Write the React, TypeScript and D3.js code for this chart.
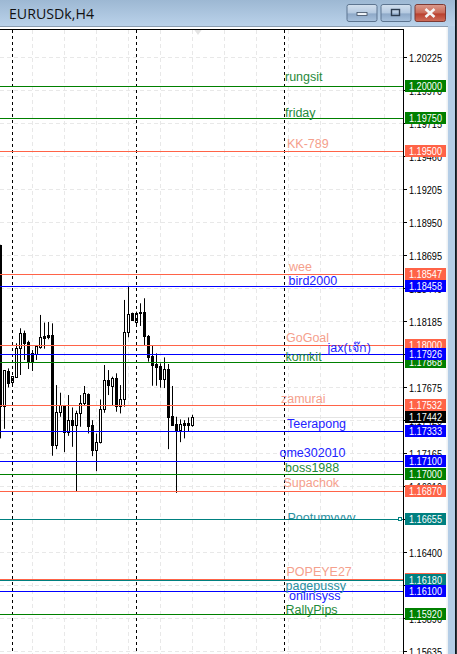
import React from "react";
import * as d3 from "d3";

const W = 457, H = 654;
const title = "EURUSDk,H4";

const tickPrices = [1.20225,1.1997,1.19715,1.1946,1.19205,1.1895,1.18695,1.1844,1.18185,1.1793,1.17675,1.1742,1.17165,1.1691,1.16655,1.164,1.16145,1.1589,1.15635];

const opens = [1.18773,1.17527,1.17795,1.17715,1.17754,1.17973,1.18089,1.18019,1.17934,1.17929,1.17986,1.18068,1.18074,1.18074,1.17228,1.17478,1.17532,1.17323,1.17416,1.17382,1.1747,1.17547,1.1762,1.1738,1.17186,1.17246,1.17501,1.17725,1.17684,1.17741,1.17527,1.17578,1.18097,1.18244,1.18179,1.18254,1.18254,1.18068,1.17914,1.17852,1.17836,1.17733,1.1781,1.17449,1.17385,1.17341,1.17393,1.17393,1.17382];
const highs = [1.18773,1.17805,1.17818,1.17759,1.18012,1.18128,1.1811,1.18032,1.1796,1.17999,1.18231,1.18172,1.18177,1.18166,1.17689,1.1763,1.17532,1.17612,1.17516,1.17491,1.17612,1.17682,1.17625,1.17418,1.17315,1.17578,1.17844,1.17805,1.17754,1.1778,1.17689,1.18347,1.1845,1.18249,1.18257,1.18321,1.1836,1.18076,1.17991,1.17934,1.17857,1.17903,1.17852,1.17682,1.17444,1.17424,1.17418,1.17439,1.1746];
const lows = [1.17277,1.17351,1.17671,1.17684,1.17754,1.17767,1.17883,1.17813,1.17798,1.17883,1.1797,1.1797,1.18043,1.17143,1.17194,1.17444,1.17171,1.17297,1.17212,1.16869,1.17367,1.17527,1.17315,1.1714,1.17024,1.17238,1.17475,1.17612,1.17535,1.17483,1.1747,1.17522,1.18058,1.18187,1.18153,1.18146,1.17999,1.1787,1.17684,1.17684,1.17669,1.17666,1.17194,1.1738,1.16856,1.17248,1.17277,1.17331,1.17367];
const closes = [1.17527,1.17805,1.17707,1.17759,1.17973,1.18089,1.18012,1.17867,1.17867,1.17991,1.18058,1.18055,1.18061,1.17228,1.17478,1.17532,1.17323,1.17416,1.17382,1.1747,1.17547,1.17625,1.17375,1.17186,1.17246,1.17501,1.17725,1.17692,1.17743,1.17527,1.17578,1.18097,1.18236,1.18192,1.18244,1.18244,1.18068,1.17908,1.17847,1.17831,1.17733,1.1781,1.17444,1.17382,1.17341,1.17385,1.17382,1.17382,1.17439];

const levelNames = ["rungsit","friday","KK-789","wee","bird2000","GoGoal","jax(เจ๊ก)","komkit","zamurai","Teerapong","ome302010","boss1988","Supachok","Pootumyvyy","POPEYE27","pagepussy","onlinsyss","RallyPips"];
const levelPrices = [1.2,1.1975,1.195,1.18547,1.18458,1.18,1.17926,1.17868,1.17532,1.17333,1.171,1.17,1.1687,1.16655,1.1619,1.1618,1.161,1.1592];
const levelKinds = ["g","g","s","s","b","s","b","g","s","b","b","g","s","t","s","t","b","g"];
const labelX = [285,285,287,289,288.5,286,327.5,285.5,281,287,279.5,285,283.5,287.5,286.5,285.5,289,285.5];
const labelBase = [81,116.7,147.7,270.7,284.7,342,351.7,360.7,402.7,427.7,457,471.7,486.7,522,575.7,590,600,614];
const currentPrice = 1.17442;

const lineColor: Record<string,string> = { g:"#008000", s:"#ff6347", b:"#0000ff", t:"#008080" };
const textColor: Record<string,string> = { g:"#1f8a3a", s:"#f5a08c", b:"#2222ff", t:"#2a8f9f" };

const plotRight = 403.5;
const y = d3.scaleLinear().domain([1.20225, 1.15635]).range([56.9, 650.9]);
const x = d3.scaleLinear().domain([0, 48]).range([0.5, 192.5]);
const gridX = d3.range(32.5, 400, 32);
const sepX = [12.5, 136.5, 284.5];
const font = "'Liberation Sans', Arial, sans-serif";
const fmt = d3.format(".5f");
const tagOrder = d3.range(levelPrices.length).sort((a, b) => (levelKinds[a] === "b" ? 1 : 0) - (levelKinds[b] === "b" ? 1 : 0) || a - b);

function Btn({ x0, w, a, b, children }: any) {
  return (
    <g>
      <rect x={x0 + 0.5} y={4.5} width={w} height={17} rx={2} fill={`url(#${a})`} stroke={b} />
      {children}
    </g>
  );
}

export default function App() {
  return (
    <svg width={W} height={H} viewBox={`0 0 ${W} ${H}`} style={{ position: "fixed", left: 0, top: 0, display: "block" }}>
      <defs>
        <linearGradient id="tb" x1="0" x2="0" y1="0" y2="1">
          <stop offset="0" stopColor="#9db8d3" />
          <stop offset="1" stopColor="#bad2ea" />
        </linearGradient>
        <linearGradient id="bt" x1="0" x2="0" y1="0" y2="1">
          <stop offset="0" stopColor="#d3e0ee" />
          <stop offset="0.5" stopColor="#b4c9e0" />
          <stop offset="0.55" stopColor="#8ea9c8" />
          <stop offset="1" stopColor="#a9c2dd" />
        </linearGradient>
        <linearGradient id="cl" x1="0" x2="0" y1="0" y2="1">
          <stop offset="0" stopColor="#dc9c8e" />
          <stop offset="0.5" stopColor="#c96a58" />
          <stop offset="0.55" stopColor="#b9402e" />
          <stop offset="1" stopColor="#cf6f5c" />
        </linearGradient>
        <clipPath id="plot"><rect x={0} y={30} width={403} height={H - 30} /></clipPath>
        <clipPath id="pootum"><rect x={280} y={500} width={100} height={19} /></clipPath>
      </defs>
      <rect width={W} height={H} fill="#fff" />
      <rect width={W} height={26} fill="url(#tb)" />
      <rect x={448} y={26} width={7} height={H - 26} fill="#b4cde6" />
      <rect x={446.5} y={26} width={1.5} height={H - 26} fill="#eef1f4" />
      <rect x={455} y={0} width={1} height={H} fill="#0e1a22" />
      <rect x={456} y={0} width={1} height={H} fill="#30343a" />
      <line x1={0} x2={448} y1={26.5} y2={26.5} stroke="#8a9cb0" />
      <text x={9} y={19} fontFamily="'Open Sans', sans-serif" fontSize={14} fill="#111" textLength={85} lengthAdjust="spacingAndGlyphs">{title}</text>
      <Btn x0={346.5} w={30} a="bt" b="#5d7590">
        <rect x={357} y={12.5} width={10} height={3} fill="#eef3f8" stroke="#3d4d60" strokeWidth={0.8} />
      </Btn>
      <Btn x0={380.5} w={30} a="bt" b="#5d7590">
        <rect x={391.5} y={9.5} width={8} height={6} fill="none" stroke="#2d3d50" strokeWidth={1.4} />
      </Btn>
      <Btn x0={414.5} w={30.5} a="cl" b="#7d3a34">
        <path d="M425.5 9 L434.5 17 M434.5 9 L425.5 17" stroke="#f4f4f4" strokeWidth={2.6} />
      </Btn>

      {/* grid */}
      <g stroke="#e8e8e8" strokeDasharray="4 3" strokeWidth={1}>
        {gridX.map(g => <line key={g} x1={g} x2={g} y1={30} y2={H} />)}
        {tickPrices.map(t => <line key={t} x1={0} x2={plotRight} y1={Math.round(y(t)) + 0.5} y2={Math.round(y(t)) + 0.5} />)}
      </g>
      <line x1={0} x2={plotRight} y1={Math.round(y(currentPrice)) + 0.5} y2={Math.round(y(currentPrice)) + 0.5} stroke="#e4e4e4" />
      <path d="M194 29.5 L202 29.5 L198 35 Z" fill="#e4e4e4" />

      {/* candles */}
      <g clipPath="url(#plot)">
        {opens.map((o, i) => {
          const c = closes[i], cx = x(i);
          const top = Math.round(y(Math.max(o, c))) + 0.5, bot = Math.round(y(Math.min(o, c))) + 0.5;
          const bear = c < o;
          return (
            <g key={i}>
              <line x1={cx} x2={cx} y1={y(highs[i])} y2={y(lows[i])} stroke="#000" />
              <rect x={cx - 1} y={top} width={2} height={Math.max(bot - top, 1)} fill={bear ? "#000" : "#fff"} stroke="#000" />
            </g>
          );
        })}
      </g>

      {/* period separators */}
      <g stroke="#000" strokeDasharray="3 3">
        {sepX.map(s => <line key={s} x1={s} x2={s} y1={30} y2={H} />)}
      </g>

      {/* levels */}
      {levelPrices.map((p, i) => {
        const yy = Math.round(y(p)) + 0.5;
        return <line key={i} x1={0} x2={plotRight} y1={yy} y2={yy} stroke={lineColor[levelKinds[i]]} />;
      })}
      <rect x={398.5} y={517.5} width={3} height={3} fill="#fff" stroke="#008080" />

      {/* level labels */}
      {levelNames.map((n, i) => (
        <text key={n} x={labelX[i]} y={labelBase[i]} fontFamily={`${font}, 'Noto Sans'`} fontSize={12.5}
          fill={textColor[levelKinds[i]]} clipPath={n === "Pootumyvyy" ? "url(#pootum)" : undefined}>{n}</text>
      ))}

      {/* axis */}
      <line x1={0} x2={plotRight + 0.5} y1={29.5} y2={29.5} stroke="#000" />
      <line x1={plotRight} x2={plotRight} y1={29} y2={H} stroke="#000" />
      {tickPrices.map(t => (
        <g key={t}>
          <line x1={plotRight} x2={407} y1={Math.round(y(t)) + 0.5} y2={Math.round(y(t)) + 0.5} stroke="#000" />
          <text x={409} y={Math.round(y(t)) + 4.5} fontFamily={font} fontSize={10.5} fill="#000" textLength={33} lengthAdjust="spacingAndGlyphs">{fmt(t)}</text>
        </g>
      ))}

      {/* price tags */}
      {tagOrder.map(i => {
        const yy = Math.round(y(levelPrices[i]));
        return (
          <g key={i}>
            <rect x={405} y={yy - 6} width={41} height={12} fill={lineColor[levelKinds[i]]} />
            <text x={409} y={yy + 4} fontFamily={font} fontSize={10.5} fill="#fff" textLength={33} lengthAdjust="spacingAndGlyphs">{fmt(levelPrices[i])}</text>
          </g>
        );
      })}
      <rect x={405} y={Math.round(y(currentPrice)) - 6} width={41} height={12} fill="#000" />
      <text x={409} y={Math.round(y(currentPrice)) + 4} fontFamily={font} fontSize={10.5} fill="#fff" textLength={33} lengthAdjust="spacingAndGlyphs">{fmt(currentPrice)}</text>
    </svg>
  );
}
